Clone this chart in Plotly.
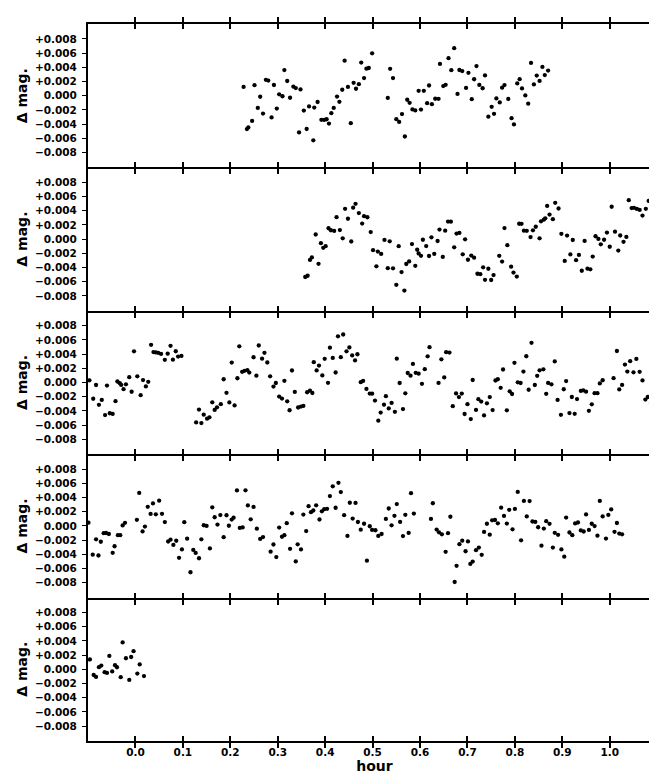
import plotly.graph_objects as go
from plotly.subplots import make_subplots

# ---------------- data: hour, delta magnitude per strip ----------------
p1_hour = [0.228, 0.235, 0.238, 0.246, 0.251, 0.258, 0.263, 0.269, 0.275, 0.280, 0.287, 0.292, 0.298, 0.303,
           0.310, 0.314, 0.320, 0.326, 0.333, 0.338, 0.348, 0.345, 0.355, 0.361, 0.366, 0.375, 0.377, 0.384,
           0.392, 0.398, 0.403, 0.408, 0.413, 0.418, 0.425, 0.430, 0.436,
           0.441, 0.448, 0.454, 0.460, 0.465, 0.471, 0.476, 0.482, 0.487, 0.492, 0.499, 0.532, 0.537, 0.543,
           0.550, 0.556, 0.562, 0.568, 0.573, 0.578, 0.584, 0.590, 0.597, 0.602, 0.608, 0.615, 0.619, 0.625,
           0.632, 0.639, 0.642, 0.649, 0.654, 0.660, 0.666, 0.672, 0.679, 0.683, 0.689, 0.697, 0.702, 0.709,
           0.714, 0.719, 0.725, 0.732, 0.737, 0.744, 0.751, 0.756, 0.761, 0.768, 0.773, 0.778, 0.786, 0.793,
           0.798, 0.805, 0.810, 0.815, 0.822, 0.828, 0.834, 0.840, 0.846, 0.852, 0.858, 0.863, 0.870]
p1_dmag = [0.00124, -0.00470, -0.00447, -0.00356, 0.00148, -0.00172, -0.00015, -0.00252, 0.00224, 0.00213,
           -0.00306, 0.00151, -0.00182, 0.00020, -0.00008, 0.00361, 0.00207, -0.00029, 0.00127, 0.00108,
           0.00088, -0.00518, -0.00210, -0.00469, -0.00151, -0.00629, -0.00167, -0.00089, -0.00340, -0.00341,
           -0.00332, -0.00393, -0.00246, -0.00172, -0.00012, -0.00086, 0.00084,
           0.00494, 0.00123, -0.00387, 0.00181, 0.00098, 0.00162, 0.00466, 0.00248, 0.00381, 0.00390, 0.00597,
           -0.00032, 0.00379, 0.00248, -0.00331, -0.00369, -0.00259, -0.00575, -0.00057, -0.00100, -0.00193,
           -0.00207, 0.00069, -0.00195, 0.00068, -0.00105, 0.00144, -0.00120, -0.00043, -0.00044, 0.00447,
           0.00136, 0.00153, 0.00528, 0.00360, 0.00669, 0.00025, 0.00362, 0.00347, 0.00110, 0.00322, -0.00049,
           0.00232, 0.00417, 0.00152, 0.00105, 0.00285, -0.00295, -0.00157, -0.00255, -0.00038, -0.00095,
           0.00113, 0.00149, -0.00046, -0.00316, -0.00405, 0.00173, 0.00233, 0.00102, 0.00004, -0.00113,
           0.00461, 0.00159, 0.00283, 0.00208, 0.00406, 0.00290, 0.00354]

p2_hour = [0.358, 0.363, 0.368, 0.372, 0.380, 0.386, 0.391, 0.396, 0.401, 0.407, 0.412, 0.419, 0.424, 0.431,
           0.437, 0.442, 0.448, 0.455, 0.459, 0.464, 0.471, 0.478, 0.482, 0.489, 0.496, 0.501, 0.511, 0.508,
           0.518, 0.525, 0.532, 0.536, 0.543, 0.550, 0.555, 0.561, 0.567, 0.571, 0.577, 0.583, 0.590, 0.594,
           0.597, 0.602, 0.606, 0.613, 0.619, 0.624, 0.630, 0.637, 0.641, 0.648, 0.653, 0.659, 0.665, 0.672,
           0.677, 0.683, 0.690, 0.695, 0.701, 0.708, 0.714, 0.721, 0.727, 0.733, 0.737, 0.744, 0.750, 0.755,
           0.767, 0.773, 0.778, 0.784, 0.792, 0.797, 0.804, 0.809, 0.814, 0.819, 0.825, 0.833, 0.838, 0.844,
           0.852, 0.855, 0.861, 0.864, 0.868, 0.873, 0.880, 0.885, 0.892, 0.898, 0.905, 0.910, 0.917, 0.922,
           0.929, 0.935, 0.941, 0.947, 0.953, 0.959, 0.964, 0.970, 0.976, 0.981, 0.988, 0.994, 1.000, 1.004,
           1.011, 1.018, 1.022, 1.029, 1.035, 1.040, 1.046, 1.051, 1.057, 1.063, 1.069, 1.076, 1.082, 1.088,
           1.094, 1.100]
p2_dmag = [-0.00534, -0.00516, -0.00294, -0.00258, 0.00065, -0.00348, -0.00057, -0.00123, -0.00100, 0.00154,
           0.00125, 0.00115, 0.00309, 0.00127, 0.00011, 0.00426, 0.00287, -0.00034, 0.00443, 0.00497, 0.00367,
           0.00218, 0.00323, 0.00308, 0.00099, -0.00156, -0.00176, -0.00384,
           -0.00209, -0.00011, -0.00410, -0.00031, -0.00412, -0.00644, -0.00099, -0.00465, -0.00725, -0.00351,
           -0.00315, -0.00070, -0.00377, -0.00150, -0.00202, -0.00235, -0.00009, -0.00098, -0.00238, 0.00025,
           -0.00207, -0.00027, 0.00134, -0.00251, 0.00119, 0.00247, 0.00246, -0.00116, 0.00078, 0.00087,
           -0.00215, -0.00003, -0.00291, -0.00232, -0.00261, -0.00488, -0.00494, -0.00398, -0.00574, -0.00418,
           -0.00576, -0.00507, -0.00236, -0.00316, 0.00156, -0.00086, -0.00388, -0.00472, -0.00528, 0.00216,
           0.00215, 0.00118, 0.00117, 0.00028, 0.00124, 0.00174, 0.00011, 0.00251, 0.00274, 0.00292, 0.00467,
           0.00346, 0.00280, 0.00511, 0.00431, 0.00074, -0.00307, 0.00049, -0.00216, -0.00013, -0.00297,
           -0.00223, -0.00446, -0.00026, -0.00416, -0.00426, -0.00246, 0.00040, 0.00002, -0.00073, -0.00009,
           0.00092, -0.00108, 0.00456, 0.00104, -0.00161, 0.00051, -0.00038, 0.00031, 0.00549, 0.00437,
           0.00440, 0.00425, 0.00411, 0.00331, 0.00427, 0.00538, 0.00343, 0.00453, 0.00382]

p3_hour = [-0.097, -0.089, -0.083, -0.077, -0.071, -0.064, -0.060, -0.054, -0.048, -0.042, -0.038, -0.033,
           -0.030, -0.025, -0.020, -0.013, -0.008, -0.003, 0.004, 0.011, 0.016, 0.022, 0.027, 0.033, 0.038,
           0.043, 0.048, 0.054, 0.062, 0.068, 0.074, 0.079, 0.085, 0.090, 0.097, 0.128, 0.134, 0.139, 0.144,
           0.151, 0.156, 0.162, 0.167, 0.172, 0.180, 0.186, 0.192, 0.198, 0.203, 0.209, 0.215, 0.219, 0.225,
           0.230, 0.236, 0.240, 0.249, 0.255, 0.260, 0.267, 0.272, 0.278, 0.284, 0.291, 0.296, 0.303, 0.309,
           0.314, 0.320, 0.325, 0.330, 0.336, 0.343, 0.349, 0.354, 0.362, 0.368, 0.373, 0.376, 0.382, 0.387,
           0.394, 0.399, 0.406, 0.410, 0.416, 0.422, 0.427, 0.433, 0.438, 0.445, 0.451, 0.457, 0.463, 0.468,
           0.475, 0.480, 0.487, 0.494, 0.499, 0.505,
           0.512, 0.517, 0.524, 0.528, 0.534, 0.540, 0.547, 0.551, 0.557, 0.564, 0.569, 0.574, 0.580, 0.585,
           0.591, 0.597, 0.604, 0.610, 0.616, 0.620, 0.639, 0.645, 0.651, 0.655, 0.662, 0.669, 0.676, 0.682,
           0.688, 0.694, 0.700, 0.707, 0.711, 0.718, 0.723, 0.729, 0.735, 0.741, 0.747, 0.753, 0.759, 0.764,
           0.770, 0.775, 0.783, 0.789, 0.794, 0.799, 0.806, 0.812, 0.818, 0.824, 0.829, 0.835, 0.842, 0.847,
           0.852, 0.860, 0.866, 0.870, 0.877, 0.884, 0.890, 0.897, 0.903, 0.908, 0.915, 0.920, 0.926, 0.931,
           0.939, 0.944, 0.950, 0.956, 0.962, 0.968, 0.974, 0.979, 0.985, 1.008, 1.015, 1.020, 1.026, 1.032,
           1.037, 1.043, 1.050, 1.056, 1.063, 1.069, 1.075, 1.080, 1.087, 1.100]
p3_dmag = [0.00031, -0.00229, -0.00035, -0.00314, -0.00245, -0.00459, -0.00044, -0.00433, -0.00443, -0.00263,
           0.00014, -0.00010, -0.00034, -0.00094, -0.00026, 0.00075, -0.00130, 0.00439, 0.00087, -0.00179,
           0.00034, -0.00055, 0.00009, 0.00531, 0.00429, 0.00423, 0.00418, 0.00403, 0.00319, 0.00406, 0.00516,
           0.00321, 0.00440, 0.00365, 0.00374, -0.00562, -0.00381, -0.00572, -0.00453, -0.00509, -0.00491,
           -0.00279, -0.00387, -0.00350, -0.00305, 0.00046, -0.00145, -0.00280, 0.00280, -0.00323, 0.00060,
           0.00509, 0.00151, 0.00165, 0.00173, 0.00140, 0.00356, 0.00096, 0.00521, 0.00335, 0.00418, 0.00282,
           0.00087, -0.00057, -0.00007, -0.00198, -0.00226, 0.00023, -0.00265, -0.00391, 0.00169, -0.00133,
           -0.00352, -0.00339, -0.00330, -0.00137, -0.00115, -0.00148, 0.00287, 0.00170, 0.00239, 0.00099,
           0.00334, -0.00005, 0.00490, 0.00346, 0.00141, 0.00650, 0.00357, 0.00676, 0.00439, 0.00494, 0.00381,
           0.00311, 0.00398, 0.00004, 0.00022, -0.00090, -0.00156, -0.00157, -0.00255,
           -0.00538, -0.00423, -0.00313, -0.00193, -0.00365, -0.00288, -0.00413, 0.00336, -0.00007, -0.00374,
           -0.00153, 0.00134, 0.00096, 0.00262, 0.00136, 0.00125, -0.00019, 0.00188, 0.00369, 0.00497, -0.00006,
           0.00327, 0.00072, 0.00427, 0.00422, -0.00334, -0.00154, -0.00206, -0.00156, -0.00444, -0.00306,
           -0.00515, 0.00035, -0.00387, -0.00235, -0.00269, -0.00464, -0.00294, -0.00206, -0.00388, 0.00028,
           0.00046, -0.00075, 0.00183, -0.00392, -0.00125, -0.00162, 0.00277, 0.00003, -0.00007, 0.00154,
           0.00370, -0.00102, 0.00559, -0.00035, 0.00094, 0.00172, 0.00185, -0.00159, -0.00006, -0.00026,
           0.00297, -0.00246, -0.00455, -0.00095, 0.00020, -0.00430, -0.00204, -0.00441, -0.00233, -0.00119,
           -0.00110, -0.00129, -0.00399, -0.00307, -0.00150, -0.00151, -0.00013, 0.00032, 0.00061, 0.00444,
           -0.00098, -0.00034, 0.00252, 0.00154, 0.00301, 0.00143, 0.00332, 0.00150, 0.00029, -0.00240,
           -0.00204, -0.00288, -0.00466]

p4_hour = [-0.099, -0.090, -0.083, -0.078, -0.073, -0.067, -0.062, -0.056, -0.048, -0.044, -0.037, -0.032,
           -0.027, -0.022, 0.003, 0.008, 0.015, 0.020, 0.026, 0.032, 0.037, 0.043, 0.050, 0.056, 0.062, 0.069,
           0.074, 0.080, 0.086, 0.092, 0.098, 0.103, 0.109, 0.116, 0.122, 0.127, 0.134, 0.139, 0.144, 0.150,
           0.157, 0.162, 0.167, 0.173, 0.179, 0.186, 0.192, 0.197, 0.203, 0.207, 0.214, 0.220, 0.226, 0.232,
           0.237, 0.243, 0.249, 0.256, 0.263, 0.269, 0.285, 0.291, 0.297, 0.303, 0.309, 0.314, 0.319, 0.326,
           0.330, 0.338, 0.342, 0.349, 0.354, 0.360, 0.365, 0.370, 0.375, 0.381, 0.388, 0.393, 0.398, 0.404,
           0.410, 0.416, 0.422, 0.428, 0.433, 0.440, 0.447, 0.452, 0.458, 0.464, 0.469, 0.475, 0.482, 0.488,
           0.494, 0.499,
           0.506, 0.512, 0.519, 0.528, 0.534, 0.540, 0.546, 0.551, 0.558, 0.564, 0.569, 0.576, 0.581, 0.587,
           0.623, 0.627, 0.635, 0.640, 0.646, 0.654, 0.659, 0.664, 0.673, 0.677, 0.683, 0.689, 0.696, 0.701,
           0.706, 0.711, 0.718, 0.724, 0.730, 0.735, 0.741, 0.747, 0.752, 0.758, 0.764, 0.771, 0.777, 0.783,
           0.788, 0.795, 0.800, 0.806, 0.813, 0.819, 0.825, 0.831, 0.837, 0.843, 0.849, 0.856, 0.861, 0.866,
           0.873, 0.880, 0.884, 0.891, 0.898, 0.904, 0.908, 0.915, 0.921, 0.927, 0.933, 0.939, 0.945, 0.950,
           0.956, 0.962, 0.968, 0.974, 0.979, 0.985, 0.992, 0.997, 1.003, 1.010, 1.015, 1.020, 1.026]
p4_dmag = [0.00045, -0.00406, -0.00189, -0.00417, -0.00223, -0.00103, -0.00100, -0.00114, -0.00379, -0.00287,
           -0.00131, -0.00131, 0.00006, 0.00043, 0.00086, 0.00464, -0.00078, -0.00010, 0.00268, 0.00169,
           0.00317, 0.00163, 0.00356, 0.00170, 0.00054, -0.00220, -0.00194, -0.00268, -0.00209, -0.00450,
           -0.00331, 0.00052, -0.00180, -0.00653, -0.00339, -0.00381, -0.00456, -0.00189, 0.00009, 0.00000,
           -0.00317, 0.00262, 0.00122, 0.00019, 0.00153, -0.00159, 0.00150, 0.00002, 0.00089, 0.00116, 0.00500,
           -0.00029, -0.00021, 0.00501, 0.00288, 0.00092, 0.00267, -0.00039, -0.00184, -0.00157, -0.00363,
           -0.00262, -0.00439, -0.00023, -0.00153, -0.00131, 0.00039, -0.00323, 0.00177, -0.00500, -0.00260,
           -0.00331, 0.00160, -0.00073, 0.00278, 0.00194, 0.00217, 0.00290, 0.00090, 0.00205, 0.00236, 0.00240,
           0.00420, 0.00558, 0.00256, 0.00607, 0.00477, 0.00151, -0.00141, 0.00326, 0.00103, 0.00324, 0.00055,
           -0.00053, 0.00030, -0.00490, -0.00005, -0.00056,
           -0.00061, -0.00141, -0.00114, 0.00098, 0.00245, 0.00008, 0.00142, 0.00307, 0.00056, -0.00144,
           0.00156, -0.00099, 0.00461, 0.00173, 0.00098, 0.00319, -0.00052, -0.00090, -0.00119, -0.00365,
           -0.00102, 0.00129, -0.00790, -0.00563, -0.00258, -0.00208, -0.00357, -0.00219, -0.00535, -0.00503,
           -0.00342, -0.00306, -0.00408, -0.00085, 0.00030, -0.00124, 0.00079, 0.00083, 0.00036, 0.00257,
           0.00140, 0.00033, 0.00227, -0.00048, 0.00239, 0.00479, -0.00203, 0.00352, 0.00133, 0.00350, 0.00062,
           0.00056, -0.00019, -0.00279, -0.00038, 0.00067, 0.00029, -0.00305, -0.00098, -0.00126, -0.00331,
           -0.00434, 0.00117, -0.00093, -0.00131, 0.00035, 0.00048, -0.00064, -0.00079, 0.00162, -0.00057,
           0.00030, -0.00003, -0.00138, 0.00352, 0.00133, -0.00178, 0.00155, 0.00232, -0.00083, 0.00041,
           -0.00108, -0.00118]

p5_hour = [-0.096, -0.088, -0.083, -0.077, -0.072, -0.065, -0.060, -0.055, -0.049, -0.043, -0.039, -0.031,
           -0.027, -0.020, -0.013, -0.009, -0.004, 0.004, 0.009, 0.018]
p5_dmag = [0.00139, -0.00080, -0.00108, 0.00030, 0.00053, -0.00041, -0.00051, 0.00189, -0.00030, 0.00058,
           0.00029, -0.00111, 0.00379, 0.00156, -0.00150, 0.00173, 0.00256, -0.00060, 0.00069, -0.00095]

panels_hour = [p1_hour, p2_hour, p3_hour, p4_hour, p5_hour]
panels_dmag = [p1_dmag, p2_dmag, p3_dmag, p4_dmag, p5_dmag]

x_tick_vals = [0.0, 0.1, 0.2, 0.3, 0.4, 0.5, 0.6, 0.7, 0.8, 0.9, 1.0]
x_tick_text = ["0.0", "0.1", "0.2", "0.3", "0.4", "0.5", "0.6", "0.7", "0.8", "0.9", "1.0"]
y_tick_vals = [0.008, 0.006, 0.004, 0.002, 0.0, -0.002, -0.004, -0.006, -0.008]
y_tick_text = ["+0.008", "+0.006", "+0.004", "+0.002", "0.000", "\u22120.002", "\u22120.004", "\u22120.006", "\u22120.008"]

X_RANGE = [-0.1, 1.108]
Y_RANGE = [-0.0101, 0.0101]
FONT = "DejaVu Sans"
TICKLEN = 5
TICKW = 1.6

fig = make_subplots(rows=5, cols=1, vertical_spacing=0)

for i, (hx, dm) in enumerate(zip(panels_hour, panels_dmag)):
    fig.add_trace(go.Scatter(x=hx, y=dm, mode="markers",
                             marker=dict(color="black", size=4.3),
                             showlegend=False, hoverinfo="skip"), row=i + 1, col=1)

for i in range(5):
    last = (i == 4)
    fig.update_xaxes(range=X_RANGE, tickmode="array", tickvals=x_tick_vals, ticktext=x_tick_text,
                     showticklabels=last, ticks="outside", ticklen=TICKLEN, tickwidth=TICKW, tickcolor="black",
                     ticklabelstandoff=-5,
                     tickfont=dict(family=FONT, size=10.5, color="black", weight="bold"),
                     showline=True, linecolor="black", linewidth=2,
                     mirror=("ticks" if i == 0 else False),
                     showgrid=False, zeroline=False, row=i + 1, col=1)
    fig.update_yaxes(range=Y_RANGE, tickmode="array", tickvals=y_tick_vals, ticktext=y_tick_text,
                     ticks="outside", ticklen=4, tickwidth=1.4, tickcolor="black",
                     ticklabelstandoff=3,
                     tickfont=dict(family=FONT, size=10.5, color="black", weight="bold"),
                     title=dict(text="\u0394 mag.", standoff=4,
                                font=dict(family=FONT, size=14, color="black", weight="bold")),
                     showline=True, linecolor="black", linewidth=2, mirror=True,
                     showgrid=False, zeroline=False, row=i + 1, col=1)

fig.update_xaxes(title=dict(text="hour", standoff=0,
                            font=dict(family=FONT, size=14, color="black", weight="bold")),
                 row=5, col=1)

# inward halves of the crossed tick marks on every horizontal border
overlay_axes = {}
n_extra = 5
for i in range(5):
    name = "xaxis%d" % (6 + i)
    overlay_axes[name] = dict(overlaying="x" if i == 0 else "x%d" % (i + 1),
                              anchor="y" if i == 0 else "y%d" % (i + 1), side="bottom",
                              range=X_RANGE, tickmode="array", tickvals=x_tick_vals, showticklabels=False,
                              ticks="inside", ticklen=TICKLEN, tickwidth=TICKW, tickcolor="black",
                              showgrid=False, zeroline=False, showline=False)
overlay_axes["xaxis11"] = dict(overlaying="x", anchor="y", side="top",
                               range=X_RANGE, tickmode="array", tickvals=x_tick_vals, showticklabels=False,
                               ticks="inside", ticklen=TICKLEN, tickwidth=TICKW, tickcolor="black",
                               showgrid=False, zeroline=False, showline=False)
fig.update_layout(**overlay_axes)
for i in range(5):
    fig.add_trace(go.Scatter(x=[None], y=[None], xaxis="x%d" % (6 + i),
                             yaxis="y" if i == 0 else "y%d" % (i + 1),
                             showlegend=False, hoverinfo="skip"))
fig.add_trace(go.Scatter(x=[None], y=[None], xaxis="x11", yaxis="y", showlegend=False, hoverinfo="skip"))

fig.update_layout(width=657, height=775, margin=dict(l=80, r=2, t=16, b=42),
                  paper_bgcolor="white", plot_bgcolor="white",
                  font=dict(family=FONT, color="black"))

fig.write_html("out.html")
